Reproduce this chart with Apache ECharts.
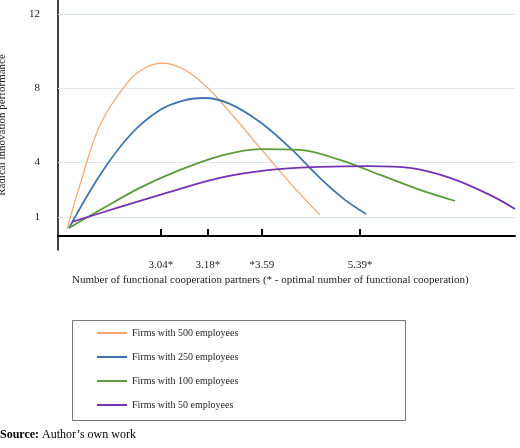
<!DOCTYPE html>
<html>
<head>
<meta charset="utf-8">
<script src="https://cdn.jsdelivr.net/npm/echarts@6/dist/echarts.min.js"></script>
<style>html,body{margin:0;background:#fff}#c{width:520px;height:448px}</style>
</head>
<body>
<div id="c"></div>
<script>
// x is in relative position units along the axis (0..100), y is performance
var seriesNames = ['Firms with 500 employees', 'Firms with 250 employees', 'Firms with 100 employees', 'Firms with 50 employees'];
var colors = ['#f4a46c', '#3f74ac', '#5b9a3c', '#7433b2'];
var firms500 = [[2.0,0.38],[4.8,2.76],[9.2,6.0],[15.1,8.27],[19.0,9.08],[23.0,9.35],[27.8,8.97],[32.8,8.0],[38.7,6.38],[44.6,4.65],[50.8,2.86],[57.3,1.14]];
var firms250 = [[2.4,0.43],[9.2,3.3],[15.8,5.46],[22.3,6.81],[27.8,7.35],[32.2,7.46],[37.6,7.14],[44.2,6.16],[50.8,4.76],[57.3,3.14],[62.8,1.95],[67.4,1.19]];
var firms100 = [[2.4,0.43],[9.2,1.4],[17.9,2.6],[26.7,3.57],[35.4,4.32],[44.2,4.7],[53.0,4.65],[61.7,4.11],[70.5,3.3],[79.2,2.49],[86.9,1.89]];
var firms50 = [[3.1,0.76],[13.6,1.57],[24.5,2.38],[35.4,3.14],[46.4,3.57],[57.3,3.73],[68.3,3.78],[77.0,3.68],[85.8,3.14],[94.5,2.22],[100,1.46]];
var xTickPos = [22.5, 32.8, 44.6, 66.1];
var xTickLabels = ['3.04*', '3.18*', '*3.59', '5.39*'];
var yTicks = [1, 4, 8, 12];

var font = 'Liberation Serif';
var chart = echarts.init(document.getElementById('c'));
var data = [firms500, firms250, firms100, firms50];
var series = data.map(function (d, i) {
  var s = {
    name: seriesNames[i], type: 'line', data: d, smooth: 0.35, symbol: 'none',
    lineStyle: { color: colors[i], width: i === 0 ? 1.2 : 1.8 }, itemStyle: { color: colors[i] },
    z: 3
  };
  if (i === 0) {
    s.markLine = {
      silent: true, symbol: 'none', label: { show: false },
      lineStyle: { color: '#dde8f3', type: 'solid', width: 1 },
      data: yTicks.map(function (v) { return { yAxis: v }; }), z: 1
    };
  }
  return s;
});
chart.setOption({
  animation: false,
  textStyle: { fontFamily: font },
  grid: { left: 58, right: 5, top: 0, bottom: 198, containLabel: false, outerBoundsMode: 'none' },
  xAxis: {
    type: 'value', min: 0, max: 100,
    axisLine: { lineStyle: { color: '#000', width: 2 } },
    axisTick: { show: true, inside: true, length: 7, customValues: xTickPos, lineStyle: { color: '#000', width: 2 } },
    axisLabel: { customValues: xTickPos, color: '#222', fontSize: 11, fontFamily: font, margin: 10,
      formatter: function (v) { return xTickLabels[xTickPos.indexOf(v)] || ''; } },
    splitLine: { show: false }
  },
  yAxis: {
    type: 'value', min: -0.76, max: 12.76,
    name: 'Radical innovation performance', nameLocation: 'middle', nameGap: 50,
    nameTextStyle: { color: '#222', fontSize: 11, fontFamily: font },
    axisLine: { show: true, lineStyle: { color: '#000', width: 1.5 } },
    axisTick: { show: false },
    axisLabel: { customValues: yTicks, color: '#222', fontSize: 11, fontFamily: font, margin: 18 },
    splitLine: { show: false }
  },
  legend: {
    orient: 'vertical', left: 92, top: 323, itemGap: 14, itemWidth: 30, itemHeight: 2,
    icon: 'rect', textStyle: { fontSize: 10, color: '#222', fontFamily: font },
    data: seriesNames
  },
  graphic: [
    { type: 'rect', left: 70, top: 318, shape: { width: 333, height: 100 }, style: { fill: 'none', stroke: '#555', lineWidth: 0.8 } },
    { type: 'text', left: 72, top: 275, style: { text: 'Number of functional cooperation partners (* - optimal number of functional cooperation)', fill: '#222', font: '11px ' + font } },
    { type: 'text', left: 0, top: 429, style: { text: '{b|Source:} Author\u2019s own work', fill: '#000', font: '12px ' + font, rich: { b: { fontWeight: 'bold', fontSize: 12, fontFamily: font } } } }
  ],
  series: series
});
</script>
</body>
</html>
